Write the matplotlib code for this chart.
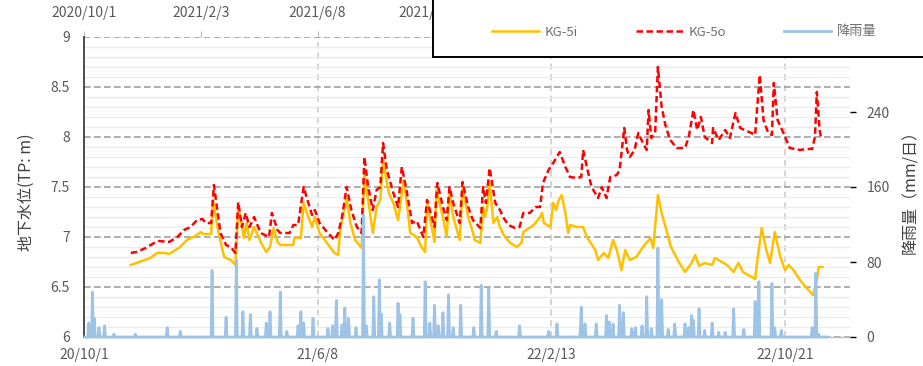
import numpy as np
import matplotlib
matplotlib.use("Agg")
import matplotlib.pyplot as plt
import matplotlib.dates as mdates
from matplotlib.patches import Rectangle
from matplotlib.ticker import MultipleLocator, FixedLocator, FuncFormatter

plt.rcParams['font.family'] = ['Noto Sans CJK JP', 'DejaVu Sans']

# ---- data (days counted from 2020-10-01) ----
start = np.datetime64('2020-10-01')

kg5i_day = [50, 71, 78, 87, 91, 103, 110, 119, 125, 128, 136, 138, 141, 144, 150, 157, 162,
            165, 168, 171, 174, 177, 182, 189, 195, 199, 203, 207, 210, 224, 225, 232, 235,
            240, 244, 247, 252, 260, 268, 272, 274, 281, 285, 290, 297, 300, 304, 309, 313,
            317, 320, 326, 331, 336, 342, 345, 349, 356, 361, 365, 367, 372, 375, 377, 384,
            388, 391, 395, 402, 405, 411, 416, 418, 424, 427, 429, 431, 434, 438, 442, 445,
            449, 456, 463, 468, 470, 481, 488, 490, 492, 499, 502, 505, 508, 511, 515, 518,
            520, 527, 534, 538, 547, 550, 556, 561, 566, 570, 575, 579, 584, 591, 598, 606,
            609, 614, 618, 621, 628, 637, 643, 650, 654, 658, 664, 672, 675, 688, 695, 700,
            705, 718, 720, 725, 730, 734, 739, 745, 750, 754, 759, 766, 773, 780, 784, 786, 790]
kg5i_level = [6.72, 6.79, 6.84, 6.84, 6.83, 6.90, 6.97, 7.01, 7.05, 7.03, 7.03, 7.37, 7.20, 7.04,
              6.80, 6.77, 6.72, 7.29, 7.17, 6.99, 7.14, 6.97, 7.10, 6.95, 6.85, 6.90, 7.09, 6.95,
              6.92, 6.92, 6.99, 6.99, 7.34, 7.20, 7.10, 7.20, 7.04, 6.94, 6.84, 6.82, 7.07, 7.39,
              7.14, 6.97, 6.89, 7.64, 7.37, 7.04, 7.30, 7.37, 7.77, 7.44, 7.34, 7.17, 7.57, 7.37,
              7.04, 7.00, 6.90, 6.85, 7.34, 7.10, 6.95, 7.47, 7.20, 7.00, 7.44, 7.20, 6.97, 7.50,
              7.20, 7.05, 6.97, 6.94, 7.30, 7.20, 7.27, 7.54, 7.14, 7.20, 7.10, 7.02, 6.94, 6.90,
              6.94, 7.05, 7.12, 7.20, 7.24, 7.14, 7.10, 7.34, 7.27, 7.37, 7.42, 7.24, 7.04, 7.12,
              7.10, 7.10, 7.00, 6.87, 6.77, 6.84, 6.79, 6.97, 6.87, 6.67, 6.87, 6.77, 6.80, 6.90,
              6.99, 6.89, 7.42, 7.24, 7.14, 6.90, 6.74, 6.65, 6.74, 6.82, 6.71, 6.74, 6.72, 6.79,
              6.72, 6.65, 6.74, 6.65, 6.58, 6.74, 7.09, 6.87, 6.74, 7.05, 6.80, 6.67, 6.72, 6.67,
              6.57, 6.49, 6.42, 6.57, 6.70, 6.70]

kg5o_day = [50, 56, 66, 75, 80, 91, 100, 107, 114, 121, 127, 130, 136, 139, 143, 146, 152, 157,
            162, 165, 169, 173, 177, 182, 189, 198, 201, 207, 210, 220, 224, 229, 235, 240, 244,
            247, 252, 261, 268, 272, 276, 281, 286, 292, 297, 300, 304, 309, 313, 317, 320, 324,
            331, 336, 340, 345, 351, 356, 363, 367, 372, 375, 378, 384, 388, 391, 395, 402, 405,
            411, 416, 418, 424, 427, 430, 434, 440, 445, 449, 454, 461, 466, 470, 477, 483, 488,
            491, 497, 502, 509, 515, 520, 527, 532, 534, 538, 543, 550, 554, 559, 563, 570, 573,
            578, 581, 584, 589, 593, 598, 602, 604, 607, 611, 614, 618, 622, 627, 629, 634, 643,
            647, 652, 656, 660, 664, 672, 673, 679, 686, 691, 697, 702, 709, 714, 718, 720, 723,
            727, 732, 736, 738, 742, 746, 750, 755, 766, 773, 779, 782, 784, 787, 789]
kg5o_level = [6.84, 6.85, 6.89, 6.94, 6.96, 6.95, 7.00, 7.07, 7.10, 7.17, 7.18, 7.14, 7.14, 7.52,
              7.24, 7.04, 6.92, 6.90, 6.84, 7.35, 7.10, 7.24, 7.10, 7.20, 7.04, 7.00, 7.24, 7.07,
              7.04, 7.04, 7.12, 7.12, 7.50, 7.34, 7.22, 7.27, 7.14, 7.04, 6.97, 7.04, 7.20, 7.50,
              7.27, 7.10, 7.04, 7.80, 7.50, 7.27, 7.47, 7.50, 7.94, 7.67, 7.44, 7.30, 7.70, 7.47,
              7.14, 7.16, 7.00, 7.37, 7.20, 7.10, 7.54, 7.30, 7.17, 7.50, 7.34, 7.14, 7.55, 7.30,
              7.17, 7.15, 7.09, 7.50, 7.34, 7.69, 7.34, 7.27, 7.19, 7.12, 7.09, 7.10, 7.24, 7.24,
              7.30, 7.30, 7.54, 7.67, 7.74, 7.85, 7.70, 7.60, 7.59, 7.60, 7.87, 7.70, 7.50, 7.39,
              7.50, 7.39, 7.60, 7.62, 7.67, 8.09, 7.87, 7.80, 7.87, 8.04, 7.94, 7.87, 8.27, 7.99,
              8.04, 8.70, 8.30, 8.12, 7.97, 7.95, 7.89, 7.89, 8.00, 8.27, 8.07, 8.20, 8.00, 7.94,
              8.09, 7.97, 8.07, 7.99, 8.24, 8.09, 8.06, 8.04, 8.02, 8.27, 8.62, 8.17, 8.04, 8.02,
              8.54, 8.17, 8.09, 8.00, 7.89, 7.87, 7.88, 7.88, 8.00, 8.45, 8.07, 7.97]

# daily rainfall (mm/day); days not listed had no rain
rain_day = [5, 9, 11, 16, 22, 32, 55, 89, 103, 137, 152, 163, 170, 178, 185, 195, 199, 210, 217,
            229, 232, 235, 245, 261, 266, 270, 276, 279, 283, 291, 299, 302, 310, 316, 318, 327,
            336, 338, 352, 365, 370, 375, 379, 384, 390, 395, 403, 417, 425, 433, 441, 466, 497,
            506, 531, 532, 536, 548, 559, 562, 566, 573, 577, 586, 590, 597, 602, 607, 614, 618,
            625, 632, 643, 647, 650, 652, 658, 664, 672, 679, 686, 695, 706, 718, 722, 736, 739,
            746, 779, 783, 786]
rain_mm = [15, 48, 20, 10, 12, 3, 3, 10, 6, 71, 21, 82, 27, 24, 9, 15, 27, 48, 6,
           12, 27, 15, 20, 9, 12, 39, 13, 31, 20, 10, 130, 12, 43, 61, 24, 15,
           36, 24, 20, 59, 15, 34, 12, 26, 45, 10, 34, 10, 55, 52, 6, 12, 6,
           14, 6, 32, 14, 14, 23, 16, 14, 34, 26, 9, 10, 12, 43, 9, 95, 40,
           8, 14, 14, 10, 23, 18, 30, 7, 15, 5, 5, 30, 8, 38, 59, 57, 10,
           7, 10, 68, 3]
rain_first_day, rain_last_day = 1, 795

rain_ticks = [0, 80, 160, 240]
x_end_day = 819.5


def to_dates(days):
    return start + (np.asarray(days, dtype=float) * 86400).astype('timedelta64[s]')


rain_days_all = np.arange(rain_first_day, rain_last_day + 1)
rain_daily = np.zeros(len(rain_days_all))
for d, v in zip(rain_day, rain_mm):
    rain_daily[d - rain_first_day] = v

# ---- figure ----
W, H = 923, 366
fig = plt.figure(figsize=(W / 100, H / 100), dpi=100)
ax = fig.add_axes([84 / W, 1 - 337 / H, (850 - 84) / W, 300 / H])

tick_color = '#595959'

c_i, = ax.plot(to_dates(kg5i_day), kg5i_level, color='#FFC000', lw=1.8, zorder=3,
               solid_joinstyle='round')
c_o, = ax.plot(to_dates(kg5o_day), kg5o_level, color='#FF0000', lw=1.8, zorder=4,
               ls=(0, (2.6, 1.4)))

ax.set_ylim(6, 9)
ax.set_xlim(to_dates([0])[0], to_dates([x_end_day])[0])
ax.yaxis.set_major_locator(MultipleLocator(0.5))
ax.yaxis.set_minor_locator(MultipleLocator(0.1))
ax.yaxis.set_major_formatter(FuncFormatter(lambda v, p: f"{v:g}"))
ax.tick_params(axis='y', which='both', length=0, pad=10, labelsize=10, labelcolor=tick_color)

bottom_ticks = mdates.date2num(to_dates([0, 250, 500, 750]))
ax.xaxis.set_major_locator(FixedLocator(bottom_ticks))


def fmt_short(x, pos):
    d = mdates.num2date(x)
    return f"{d.year % 100}/{d.month}/{d.day}"


def fmt_long(x, pos):
    d = mdates.num2date(x)
    return f"{d.year}/{d.month}/{d.day}"


ax.xaxis.set_major_formatter(FuncFormatter(fmt_short))
ax.tick_params(axis='x', which='both', length=0, pad=8, labelsize=10, labelcolor=tick_color)

ax.grid(which='major', axis='y', color='#a0a0a0', lw=1.2, ls=(0, (4, 2)))
ax.grid(which='minor', axis='y', color='#ebebeb', lw=0.9)
ax.grid(which='major', axis='x', color='#c8c8c8', lw=1.1, ls=(0, (4, 3)))
ax.set_axisbelow(True)

for side in ('top', 'right'):
    ax.spines[side].set_visible(False)
ax.spines['left'].set_color('#404040')
ax.spines['left'].set_linewidth(1.3)
ax.spines['bottom'].set_color('#bfbfbf')
ax.spines['bottom'].set_linewidth(1.0)

# upper date axis
top = ax.secondary_xaxis('top')
top_ticks = mdates.date2num(to_dates(np.arange(0, 800, 125)))
top.xaxis.set_major_locator(FixedLocator(top_ticks))
top.xaxis.set_major_formatter(FuncFormatter(fmt_long))
top.tick_params(length=4, width=0.8, color='#bfbfbf', pad=8, labelsize=10, labelcolor=tick_color)
top.spines['top'].set_visible(False)

# rainfall on the right axis
ax2 = ax.twinx()
c_r, = ax2.plot(to_dates(rain_days_all), rain_daily, color='#9DC3E6', lw=2.0, zorder=2,
                clip_on=False)
ax2.set_ylim(0, 320)
ax2.yaxis.set_major_locator(FixedLocator(rain_ticks))
ax2.tick_params(axis='y', length=4, width=1.0, color='black', pad=8, labelsize=10,
                labelcolor=tick_color)
for side in ('top', 'right', 'left', 'bottom'):
    ax2.spines[side].set_visible(False)

fig.text(26 / W, 1 - 192 / H, '地下水位(TP: m)', rotation=90, ha='center', va='center',
         fontsize=11.5, color='#404040')
fig.text(911 / W, 1 - 188 / H, '降雨量（mm/日）', rotation=90, ha='center', va='center',
         fontsize=11.5, color='#404040')

# legend panel
panel = Rectangle((433 / W, 1 - 57 / H), 1.0, 1.0, transform=fig.transFigure,
                  facecolor='white', edgecolor='black', lw=1.4, zorder=10)
fig.add_artist(panel)
leg = fig.legend([c_i, c_o, c_r], ['KG-5i', 'KG-5o', '降雨量'], ncol=3, loc='center',
                 bbox_to_anchor=(684 / W, 1 - 32 / H), frameon=False, fontsize=9.5,
                 handlelength=3.6, handletextpad=0.4, columnspacing=4.4,
                 labelcolor='#6f6f6f')
leg.set_zorder(11)

fig.savefig('out.png', dpi=100)
